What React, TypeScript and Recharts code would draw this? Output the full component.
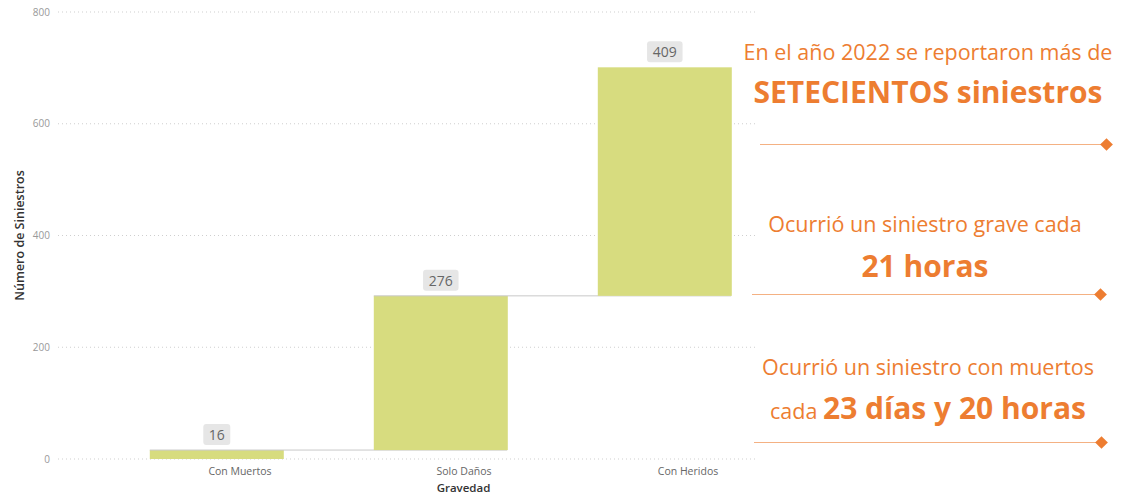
import { BarChart, Bar, XAxis, YAxis, CartesianGrid } from 'recharts'

const categories = ['Con Muertos', 'Solo Daños', 'Con Heridos']
const values = [16, 276, 409]
const yTicks = [0, 200, 400, 600, 800]

const BAR_COLOR = '#d7dc7f'
const ORANGE = '#ed7d31'
const RULE = '#f4b183'

// waterfall: invisible base + visible step
let running = 0
const data = categories.map((name, i) => {
  const row = { name, base: running, value: values[i], last: i === values.length - 1 }
  running += values[i]
  return row
})

if (typeof document !== 'undefined') document.body.style.margin = '0'

function StepBar(props: any) {
  const { x, y, width, height, payload, value } = props
  const step = width / 0.6
  const txt = String(payload?.value ?? value)
  const boxW = txt.length * 8.5 + 10
  const cx = x + width / 2
  return (
    <g>
      <rect x={x} y={y} width={width} height={height} fill={BAR_COLOR} />
      {!payload.last && (
        <line x1={x} x2={x + step + width} y1={y} y2={y} stroke="#c8c8c8" strokeWidth={1} />
      )}
      <rect x={cx - boxW / 2} y={y - 26} width={boxW} height={21} rx={3} fill="#e6e6e6" />
      <text x={cx} y={y - 10} textAnchor="middle" fontSize={14} fill="#666" fontFamily="Open Sans">
        {txt}
      </text>
    </g>
  )
}

function Rule({ top, left, right }: { top: number; left: number; right: number }) {
  return (
    <>
      <div style={{ position: 'absolute', top, left, width: right - left, height: 0, borderTop: `1.5px solid ${RULE}` }} />
      <div
        style={{
          position: 'absolute', top: top - 4.5, left: right + 1, width: 9, height: 9,
          background: ORANGE, transform: 'rotate(45deg)',
        }}
      />
    </>
  )
}

const line = (top: number, size: number, bold: boolean): React.CSSProperties => ({
  position: 'absolute', left: 728, width: 400, top: top - size * 0.7, textAlign: 'center',
  fontSize: size, lineHeight: `${size * 1.4}px`, fontWeight: bold ? 700 : 400, color: ORANGE,
  whiteSpace: 'nowrap',
})

export default function App() {
  return (
    <div style={{ position: 'relative', width: 1133, height: 495, background: '#fff', fontFamily: 'Open Sans' }}>
      <BarChart
        width={1133}
        height={495}
        data={data}
        margin={{ top: 12, right: 356, bottom: 0, left: 0 }}
        barCategoryGap="20%"
      >
        <CartesianGrid vertical={false} stroke="#cfcfcf" strokeDasharray="1 3" />
        <XAxis
          dataKey="name"
          padding={{ left: 47, right: 0 }}
          axisLine={false}
          tickLine={false}
          tickMargin={3}
          height={36}
          tick={{ fontSize: 10.5, fill: '#666', fontFamily: 'Open Sans', dx: 23 }}
          label={{ value: 'Gravedad', position: 'insideBottom', offset: 3, dx: 46, fontSize: 11.5, fontWeight: 600, fill: '#333', fontFamily: 'Open Sans' }}
        />
        <YAxis
          domain={[0, 800]}
          ticks={yTicks}
          axisLine={false}
          tickLine={false}
          width={58}
          tickMargin={2}
          tick={{ fontSize: 10, fill: '#999', fontFamily: 'Open Sans' }}
          label={{ value: 'Número de Siniestros', angle: -90, position: 'insideLeft', offset: 20, style: { textAnchor: 'middle' }, fontSize: 12.5, fontWeight: 600, fill: '#333', fontFamily: 'Open Sans' }}
        />
        <Bar dataKey="base" stackId="w" fill="transparent" isAnimationActive={false} />
        <Bar dataKey="value" stackId="w" shape={<StepBar />} isAnimationActive={false} />
      </BarChart>

      <div style={{ position: 'absolute', left: 755, top: 0, width: 378, height: 495, background: '#fff' }} />
      <div style={line(52, 21.5, false)}>En el año 2022 se reportaron más de</div>
      <div style={line(92, 30, true)}>SETECIENTOS siniestros</div>
      <Rule top={144} left={760} right={1101} />
      <div style={{ ...line(224, 21.5, false), left: 725 }}>Ocurrió un siniestro grave cada</div>
      <div style={{ ...line(266, 30, true), left: 725 }}>21 horas</div>
      <Rule top={294} left={752} right={1095} />
      <div style={line(367, 21.5, false)}>Ocurrió un siniestro con muertos</div>
      <div style={line(408, 30, true)}>
        <span style={{ fontSize: 21.5, fontWeight: 400 }}>cada </span>23 días y 20 horas
      </div>
      <Rule top={442} left={754} right={1096} />
    </div>
  )
}
